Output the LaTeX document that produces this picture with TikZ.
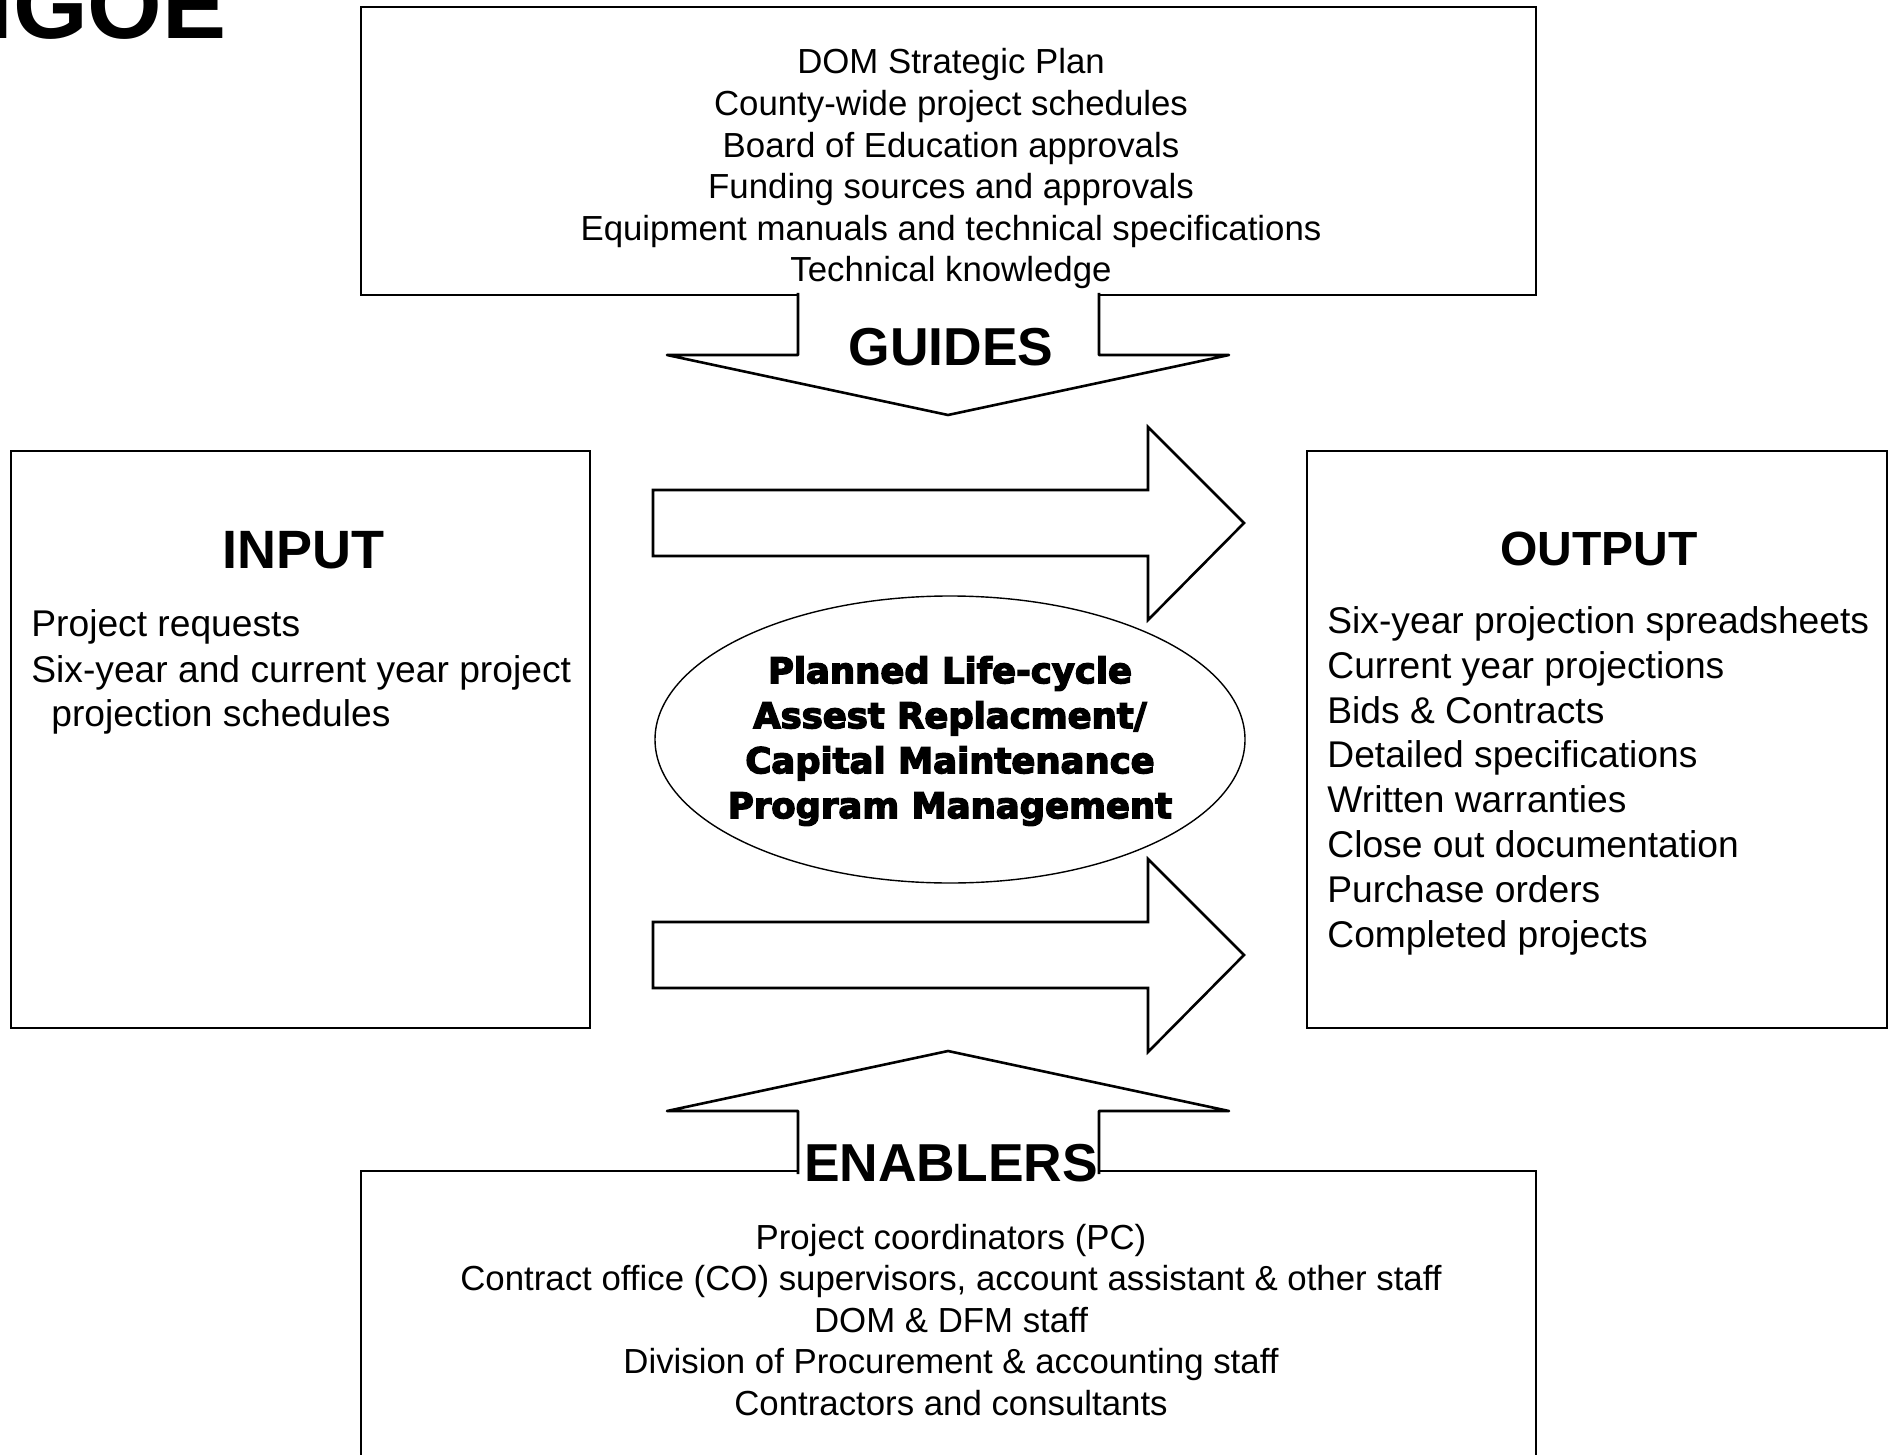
\documentclass[tikz,border=0pt]{standalone}
\usepackage{fontspec}
\setmainfont{Liberation Sans}
\newfontfamily\heavyfont{DejaVu Sans}[UprightFont={* Bold}, FakeBold=4]
\usetikzlibrary{shapes.geometric}
\tikzset{
  thinframe/.style={draw, line width=0.8pt},
  thickframe/.style={draw, line width=1.3pt},
  blockarrow/.style={draw, fill=white, line width=1.3pt, line join=round},
  listtext/.style={inner sep=0pt, anchor=base, font=\fontsize{17.4}{21}\selectfont},
  sidetext/.style={inner sep=0pt, anchor=base west, font=\fontsize{18.6}{22}\selectfont},
  heading/.style={inner sep=0pt, anchor=base, font=\bfseries\fontsize{26.7}{30}\selectfont}
}

\begin{document}
\begin{tikzpicture}[x=0.5pt, y=-0.5pt]
  \useasboundingbox (0,0) rectangle (1895,1455);
  \clip (0,0) rectangle (1895,1455);

  % title, cut off by the top edge
  \node[inner sep=0pt, anchor=base east, font=\bfseries\fontsize{48}{50}\selectfont] (igoe) at (227,39) {IGOE};

  % guides
  \draw[thickframe] (361,7) rectangle (1536,295);
  \foreach \line [count=\i] in {DOM Strategic Plan, County-wide project schedules, Board of Education approvals, Funding sources and approvals, Equipment manuals and technical specifications, Technical knowledge}
    \node[listtext] (guide\i) at (951,{74+41.6*(\i-1)}) {\line};
  \draw[blockarrow] (798,293) -- (798,355) -- (667,355) -- (948,415) -- (1229,355) -- (1099,355) -- (1099,293);
  \node[heading] (guides) at (951,365.5) {GUIDES};

  % input
  \draw[thinframe] (11,451) rectangle (590,1028);
  \node[heading, font=\bfseries\fontsize{27}{30}\selectfont] (input) at (303,568) {INPUT};
  \node[sidetext] (in1) at (31,636) {Project requests};
  \node[sidetext] (in2) at (31,682) {Six-year and current year project};
  \node[sidetext] (in3) at (51,726) {projection schedules};

  % output
  \draw[thinframe] (1307,451) rectangle (1887,1028);
  \node[heading, font=\bfseries\fontsize{24}{28}\selectfont] (output) at (1599,565) {OUTPUT};
  \foreach \line [count=\i] in {Six-year projection spreadsheets, Current year projections, Bids \& Contracts, Detailed specifications, Written warranties, Close out documentation, Purchase orders, Completed projects}
    \node[sidetext] (out\i) at (1327,{633.5+44.8*(\i-1)}) {\line};

  % process arrows
  \draw[blockarrow, line join=miter] (653,490) -- (1148,490) -- (1148,427) -- (1244,523) -- (1148,620) -- (1148,556) -- (653,556) -- cycle;
  \draw[blockarrow, line join=miter] (653,922) -- (1148,922) -- (1148,859) -- (1244,955) -- (1148,1052) -- (1148,988) -- (653,988) -- cycle;

  % process
  \draw[line width=0.7pt] (950,739.5) ellipse [x radius=295, y radius=143.5];
  \node[inner sep=0pt, align=center, font=\heavyfont\fontsize{17.7}{22.5}\selectfont] (plan) at (950,741)
        {Planned Life-cycle\\Assest Replacment/\\Capital Maintenance\\Program Management};

  % enablers
  \draw[thickframe] (361,1171) rectangle (1536,1500);
  \draw[blockarrow] (798,1174) -- (798,1111) -- (667,1111) -- (948,1051) -- (1229,1111) -- (1099,1111) -- (1099,1174);
  \node[heading] (enablers) at (951,1181) {ENABLERS};
  \foreach \line [count=\i] in {Project coordinators (PC), {Contract office (CO) supervisors, account assistant \& other staff}, DOM \& DFM staff, Division of Procurement \& accounting staff, Contractors and consultants}
    \node[listtext] (enabler\i) at (951,{1249+41.6*(\i-1)}) {\line};
\end{tikzpicture}
\end{document}
